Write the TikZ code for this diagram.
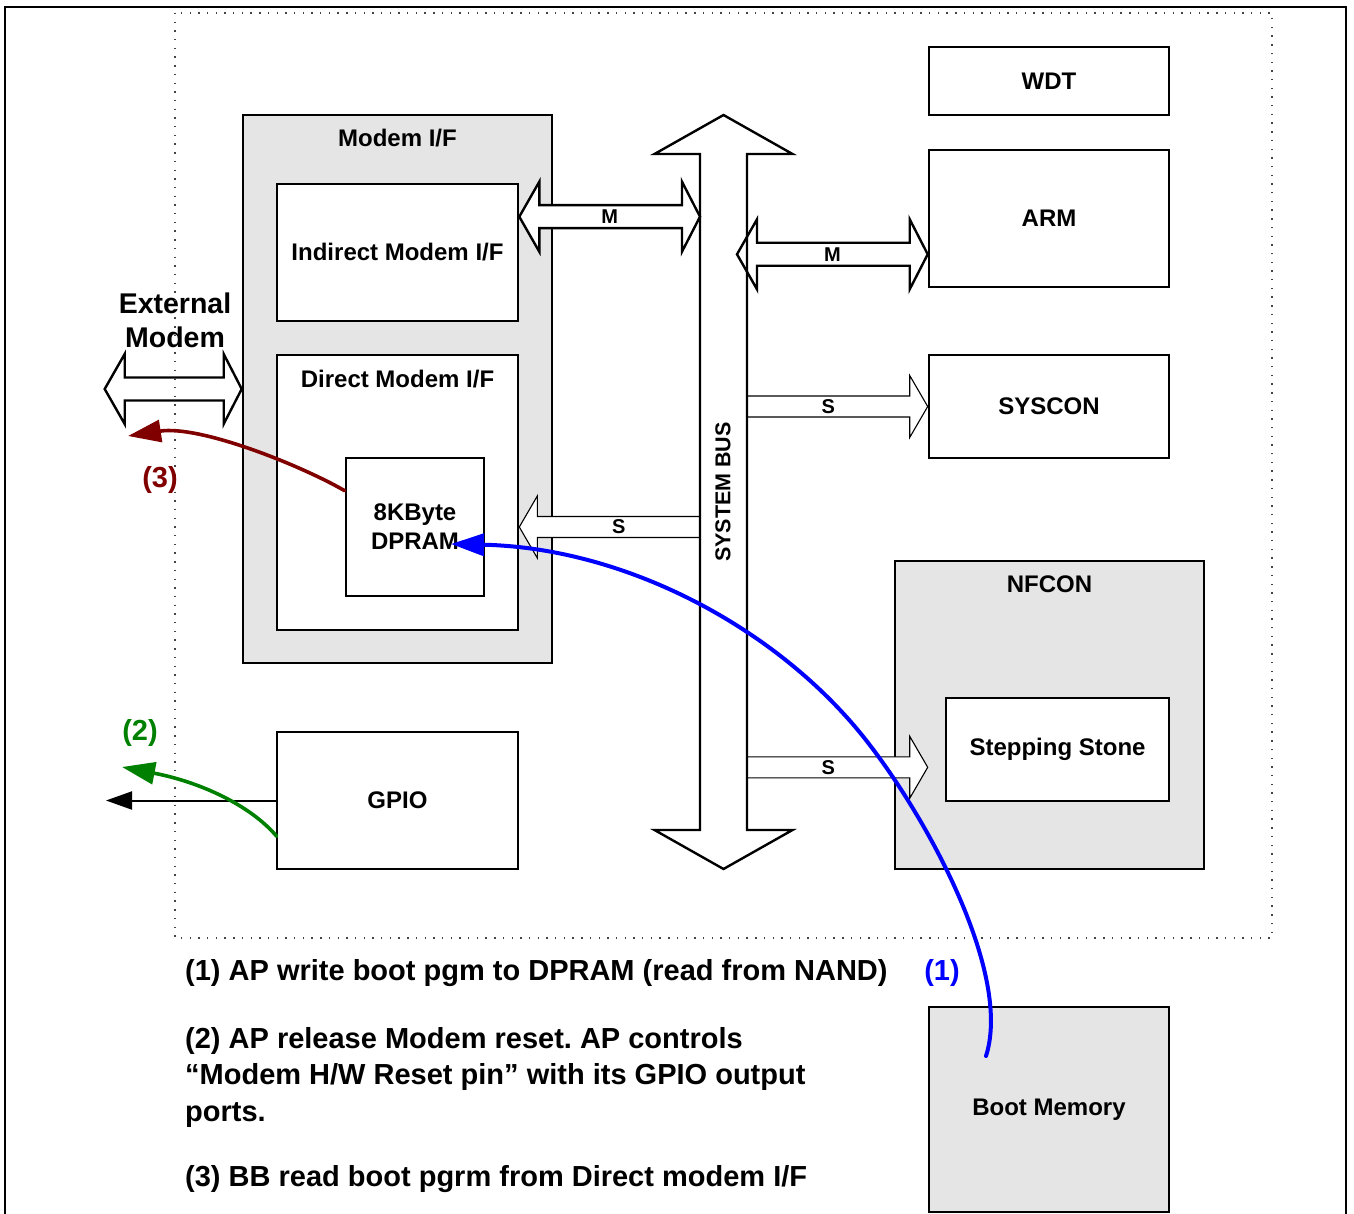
\documentclass[tikz,border=0pt]{standalone}
\usepackage{fontspec}
\setmainfont{Liberation Sans}
\usetikzlibrary{arrows.meta,calc,positioning}
\frenchspacing
\definecolor{boxgray}{HTML}{E5E5E5}
\definecolor{flowblue}{HTML}{0000FF}
\definecolor{flowgreen}{HTML}{008000}
\definecolor{flowred}{HTML}{800000}
\definecolor{dotgray}{HTML}{444444}
\tikzset{
  blk/.style={draw=black, fill=white, line width=2.6pt, inner sep=0pt,
    font=\fontsize{24}{29}\selectfont\bfseries, align=center},
  grp/.style={blk, fill=boxgray},
  ttl/.style={font=\fontsize{24}{29}\selectfont\bfseries, inner sep=0pt},
  bigarr/.style={draw=black, fill=white, line width=2.4pt},
  sarr/.style={draw=black, fill=white, line width=1.1pt},
  arrlbl/.style={font=\fontsize{20}{22}\selectfont\bfseries, inner sep=0pt},
  note/.style={font=\fontsize{29}{36.5}\selectfont\bfseries, inner sep=0pt, anchor=west, align=left},
  flow/.style={line width=4pt, line cap=round, -{Triangle[length=33pt,width=22pt]}}
}
% block arrow with a head at each end: #1 left tip, #2 right tip, #3 label
\newcommand{\dblblock}[3]{%
  \draw[bigarr] (#1) -- ($(#1)+(20,-35)$) -- ($(#1)+(20,-11.5)$) -- ($(#2)+(-18,-11.5)$)
    -- ($(#2)+(-18,-35)$) -- (#2) -- ($(#2)+(-18,35)$) -- ($(#2)+(-18,11.5)$)
    -- ($(#1)+(20,11.5)$) -- ($(#1)+(20,35)$) -- cycle;
  \node[arrlbl] at ($(#1)!.5!(#2)$) {#3};}
% slave block arrow: #1 tail on the bus, #2 tip, #3 direction (1 or -1), #4 label
\newcommand{\sglblock}[4]{%
  \draw[sarr] ($(#1)+(0,-10.5)$) -- ($(#2)+(-18*#3,-10.5)$) -- ($(#2)+(-18*#3,-31)$) -- (#2)
    -- ($(#2)+(-18*#3,31)$) -- ($(#2)+(-18*#3,10.5)$) -- ($(#1)+(0,10.5)$);
  \node[arrlbl] at ($(#1)!.45!(#2)$) {#4};}

\begin{document}
\begin{tikzpicture}[x=1pt,y=-1pt]
  \useasboundingbox (0,0) rectangle (1354,1214);
  \draw[line width=2.4pt] (5,1214) -- (5,7) -- (1346,7) -- (1346,1214);

  % right side
  \node[blk, minimum width=240pt, minimum height=68pt] (wdt) at (1049,81) {WDT};
  \node[blk, minimum width=240pt, minimum height=137pt] (arm) at (1049,218.5) {ARM};
  \node[blk, minimum width=240pt, minimum height=103pt] (syscon) at (1049,406.5) {SYSCON};
  \node[grp, minimum width=309pt, minimum height=308pt] (nfcon) at (1049.5,715) {};
  \node[ttl] (nfcontitle) at ($(nfcon.north)+(0,25)$) {NFCON};
  \node[blk, minimum width=223pt, minimum height=103pt] (step) at (1057.5,749.5) {Stepping Stone};
  \node[grp, minimum width=240pt, minimum height=205pt] (bootmem) at (1049,1109.5) {Boot Memory};

  % left side
  \node[grp, minimum width=309pt, minimum height=548pt] (modem) at (397.5,389) {};
  \node[ttl] (modemtitle) at ($(modem.north)+(0,24)$) {Modem I/F};
  \node[blk, minimum width=241pt, minimum height=137pt] (indirect) at (397.5,252.5) {Indirect Modem I/F};
  \node[blk, minimum width=241pt, minimum height=275pt] (direct) at (397.5,492.5) {};
  \node[ttl] (directtitle) at ($(direct.north)+(0,25)$) {Direct Modem I/F};
  \node[blk, minimum width=138pt, minimum height=138pt] (dpram) at (415,527) {8KByte\\DPRAM};
  \node[blk, minimum width=241pt, minimum height=137pt] (gpio) at (397.5,800.5) {GPIO};

  % system bus
  \coordinate (bustop) at (723.5,115);
  \coordinate (busbot) at (723.5,869);
  \coordinate (busW) at (700,492);
  \coordinate (busE) at (747,492);

  \coordinate (m1) at ($(indirect.north east)+(0,34)$);
  \dblblock{m1}{busW |- m1}{M}
  \coordinate (m2) at ($(arm.south west)+(0,-34)$);
  \coordinate (m2tip) at ($(busE |- m2)+(-10,0)$);
  \dblblock{m2tip}{m2}{M}
  \sglblock{busE |- syscon.west}{syscon.west}{1}{S}
  \sglblock{busW |- dpram.east}{direct.east |- dpram.east}{-1}{S}
  \coordinate (s3) at ($(step.south west)+(-17,-35)$);
  \sglblock{busE |- s3}{s3}{1}{S}
  \coordinate (extmodem) at ($(modem.west)+(-137,0)$);
  \dblblock{extmodem}{modem.west}{}

  \draw[bigarr, fill=none] (bustop) -- ++(69,39) -- ++(-45.5,0) -- ($(busbot)+(23.5,-39)$) -- ++(45.5,0)
    -- (busbot) -- ++(-69,-39) -- ++(45.5,0) -- ($(bustop)+(-23.5,39)$) -- ++(-45.5,0) -- cycle;
  \node[rotate=90, font=\fontsize{21.5}{24}\selectfont\bfseries, inner sep=0pt] (busname) at (723,492) {SYSTEM BUS};

  \node[font=\fontsize{28.5}{34}\selectfont\bfseries, align=center, inner sep=0pt] (extlabel) at (175,320) {External\\Modem};

  \draw[dotgray, line width=1.4pt, dash pattern=on 1.4pt off 7.3pt] (175,13) rectangle (1272,938);

  % GPIO output
  \coordinate (gpioout) at (106,800.5);
  \draw[line width=2pt, -{Triangle[length=26pt,width=18pt]}] (gpio.west) -- (gpioout);

  % boot flows
  \coordinate (f1start) at (986,1056);
  \coordinate (f1tip) at (451,544);
  \draw[flow, flowblue] (f1start) .. controls (1012,975) and (930,823) .. (869,744)
    .. controls (784,633) and (631,548) .. (f1tip);
  \coordinate (f2start) at ($(gpio.south west)+(1,-34)$);
  \coordinate (f2tip) at (122,767);
  \draw[flow, flowgreen, line width=3.6pt] (f2start) .. controls (250,805) and (200,782) .. (f2tip);
  \coordinate (f3start) at ($(dpram.north west)+(0,34)$);
  \coordinate (f3tip) at (128,436);
  \draw[flow, flowred, line width=3.6pt] (f3start) .. controls (300,465) and (200,425) .. (f3tip);

  \node[note, anchor=center, text=flowblue] (lbl1) at (942,973) {(1)};
  \node[note, anchor=center, text=flowgreen] (lbl2) at (140,733) {(2)};
  \node[note, anchor=center, text=flowred] (lbl3) at (160,480) {(3)};

  \node[note] (note1) at (185,973) {(1) AP write boot pgm to DPRAM (read from NAND)};
  \node[note] (note2) at (185,1077) {(2) AP release Modem reset. AP controls\\“Modem H/W Reset pin” with its GPIO output\\ports.};
  \node[note] (note3) at (185,1179) {(3) BB read boot pgrm from Direct modem I/F};
\end{tikzpicture}
\end{document}
